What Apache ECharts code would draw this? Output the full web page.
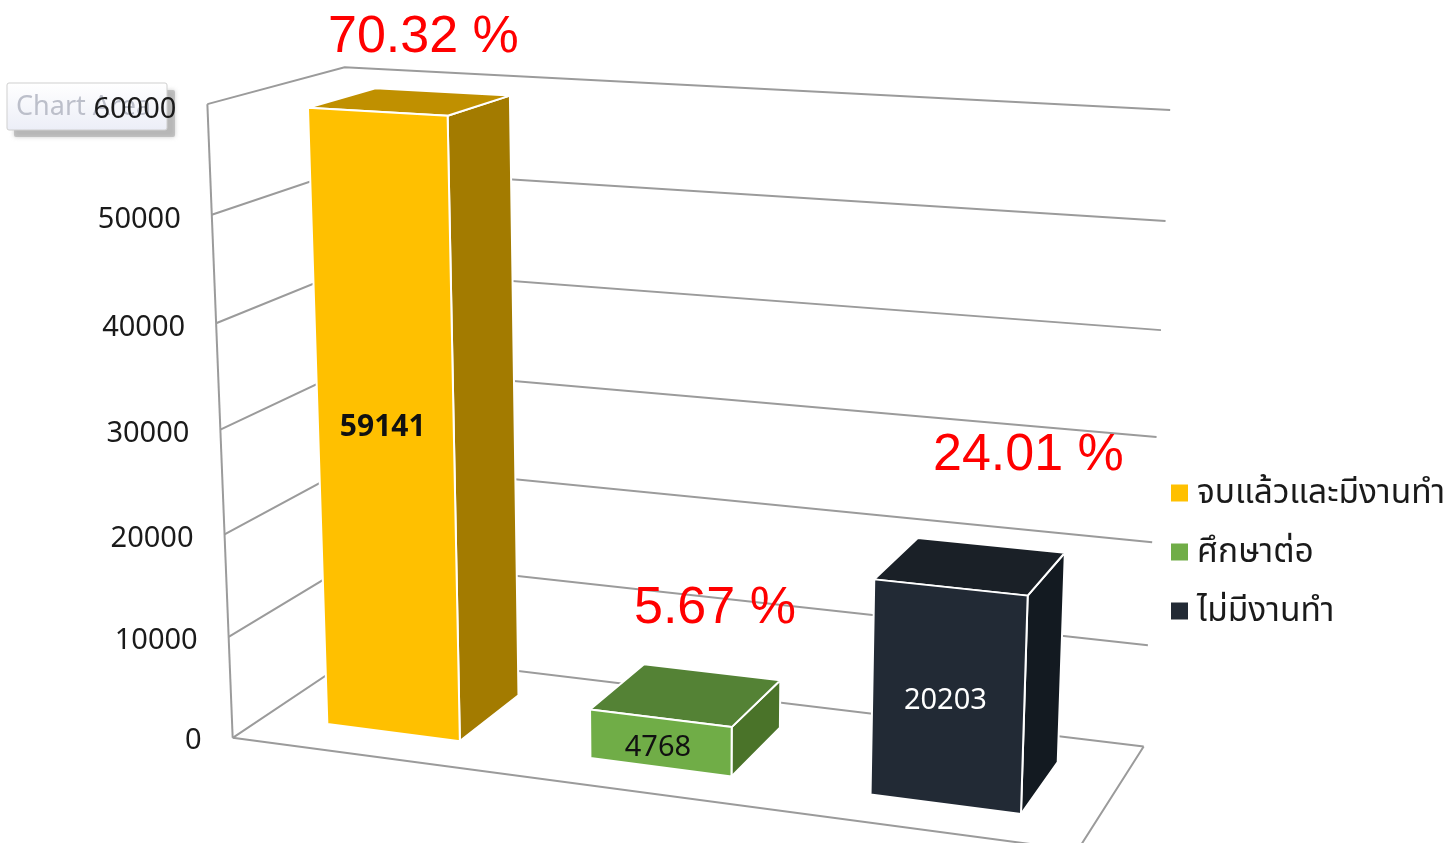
<!DOCTYPE html>
<html><head><meta charset="utf-8"><style>html,body{margin:0;background:#fff}#c{width:1449px;height:843px}</style>
<script src="https://cdn.jsdelivr.net/npm/echarts@6/dist/echarts.min.js"></script></head><body><div id="c"></div>
<script>
const categories=['จบแล้วและมีงานทำ','ศึกษาต่อ','ไม่มีงานทำ'];
const values=[59141,4768,20203];
const percents=['70.32 %','5.67 %','24.01 %'];
const ticks=[0,10000,20000,30000,40000,50000,60000];
const anchors=[[0,0,0,233,738],[0,1,0,207,105],[0,1,1,345,67],[0,0,1,361,652],[1,1,1,1170,110],[1,0,1,1143,747],[1,0,0,1078,850],[0,.5,0,220,429],[1,.5,1,1157,437]];
function solve(){const n=11,A=[...Array(n)].map(()=>Array(n+1).fill(0));
 const add=(r,b)=>{for(let i=0;i<n;i++){for(let j=0;j<n;j++)A[i][j]+=r[i]*r[j];A[i][n]+=r[i]*b}};
 anchors.forEach(([X,Y,Z,u0,v0])=>{const u=u0/1000,v=v0/1000;
  add([X,Y,Z,1,0,0,0,0,-u*X,-u*Y,-u*Z],u);add([0,0,0,0,X,Y,Z,1,-v*X,-v*Y,-v*Z],v)});
 for(let i=0;i<n;i++){let m=i;for(let k=i;k<n;k++)if(Math.abs(A[k][i])>Math.abs(A[m][i]))m=k;[A[i],A[m]]=[A[m],A[i]];
  for(let k=0;k<n;k++)if(k!==i){const f=A[k][i]/A[i][i];for(let j=i;j<=n;j++)A[k][j]-=f*A[i][j]}}
 return A.map((r,i)=>r[n]/r[i])}
const P=solve();
function proj(X,Y,Z){const w=P[8]*X+P[9]*Y+P[10]*Z+1;return [1000*(P[0]*X+P[1]*Y+P[2]*Z+P[3])/w,1000*(P[4]*X+P[5]*Y+P[6]*Z+P[7])/w]}
const GW=800;
const BAR={width:.1705,z0:.24,z1:.75};
const colors=[['#FFC000','#A37B00','#C09000'],['#70AD47','#4A7329','#548235'],['#222A35','#131A21','#1A2027']];
const labelColors=['#111','#111','#fff'],labelFonts=['bold 30px','29px','29px'];
const poly=(pts,fill)=>({type:'polygon',shape:{points:pts},style:{fill,stroke:'#fff',lineWidth:2,lineJoin:'round'}});
function barRender(params,api){
 const i=api.value(0),v=api.value(1),c=api.coord([i,v]),c0=api.coord([i,0]);
 const Xc=c[0]/GW,Y=(c0[1]-c[1])/GW,x0=Xc-BAR.width/2,x1=Xc+BAR.width/2;
 const p=proj,col=colors[i];
 const f=[p(x0,0,BAR.z0),p(x1,0,BAR.z0),p(x1,Y,BAR.z0),p(x0,Y,BAR.z0)];
 const cx=f.reduce((s,q)=>s+q[0],0)/4,cy=f.reduce((s,q)=>s+q[1],0)/4;
 return {type:'group',children:[
  poly([p(x1,0,BAR.z0),p(x1,0,BAR.z1),p(x1,Y,BAR.z1),p(x1,Y,BAR.z0)],col[1]),
  poly([p(x0,Y,BAR.z0),p(x1,Y,BAR.z0),p(x1,Y,BAR.z1),p(x0,Y,BAR.z1)],col[2]),
  poly(f,col[0]),
  {type:'text',style:{x:cx-3,y:cy+5,text:String(v),fill:labelColors[i],font:labelFonts[i]+' "Noto Sans"',textAlign:'center',textVerticalAlign:'middle'}}
 ]}}
function wallRender(params,api){
 const t=api.value(1),c=api.coord([0,t]),c0=api.coord([0,0]),Y=(c0[1]-c[1])/GW;
 const a=proj(0,Y,0),b=proj(0,Y,1),d=proj(1,Y,1);
 const ls={stroke:'#9b9b9b',lineWidth:2,fill:'none'};
 const kids=[{type:'polyline',shape:{points:[a,b,d]},style:ls},
  {type:'text',style:{x:a[0]-31,y:a[1]+3+Y*3,text:String(t),fill:'#1a1a1a',font:'29px "Noto Sans"',textAlign:'right',textVerticalAlign:'middle'}}];
 if(t===0){const top=proj(0,1,0);kids.push({type:'line',shape:{x1:a[0],y1:a[1],x2:top[0],y2:top[1]},style:ls},
  {type:'polyline',shape:{points:[a,proj(1,0,0),d]},style:ls});}
 return {type:'group',children:kids}}
const series=[{type:'custom',name:'wall',z:1,renderItem:wallRender,data:ticks.map(t=>[0,t]),encode:{x:0,y:1},silent:true}]
 .concat(categories.map((n,i)=>({type:'custom',name:n,z:2,renderItem:barRender,data:[[i,values[i]]],encode:{x:0,y:1},itemStyle:{color:colors[i][0]}})));
const chart=echarts.init(document.getElementById('c'));
const pctFont='52px "Liberation Sans"';
chart.setOption({animation:false,
 grid:{left:0,top:0,width:GW,height:GW,show:false},
 xAxis:{type:'category',data:categories,show:false},
 yAxis:{type:'value',min:0,max:60000,interval:10000,show:false},
 legend:{orient:'vertical',left:1171,top:473,padding:0,itemWidth:17,itemHeight:17,itemGap:19,icon:'rect',data:categories,
  formatter:n=>'{a|'+n+'}',
  textStyle:{rich:{a:{fontFamily:'"Noto Sans Thai","Noto Sans",Tahoma,sans-serif',fontSize:33.5,color:'#1a1a1a',lineHeight:30,padding:[6,0,0,4]}}},selectedMode:false},
 series,
 graphic:[
  {type:'rect',z:-2,shape:{x:14,y:90,width:161,height:47,r:2},style:{fill:'#a8a8a8',opacity:.6,shadowBlur:4,shadowColor:'#aaa'}},
  {type:'rect',z:-1,shape:{x:7,y:83,width:160,height:47,r:2},style:{fill:new echarts.graphic.LinearGradient(0,0,0,1,[{offset:0,color:'#fff'},{offset:1,color:'#eceef7'}]),stroke:'#cfcfcf',lineWidth:1}},
  {type:'text',z:-1,style:{x:16,y:107,text:'Chart Area',fill:'#bcbfca',font:'27px "Noto Sans"',textVerticalAlign:'middle'}},
  {type:'text',z:50,style:{x:328,y:38,text:percents[0],fill:'#f00',font:pctFont,textVerticalAlign:'middle'}},
  {type:'text',z:50,style:{x:634,y:609,text:percents[1],fill:'#f00',font:pctFont,textVerticalAlign:'middle'}},
  {type:'text',z:50,style:{x:933,y:456,text:percents[2],fill:'#f00',font:pctFont,textVerticalAlign:'middle'}}
 ]});
</script></body></html>
